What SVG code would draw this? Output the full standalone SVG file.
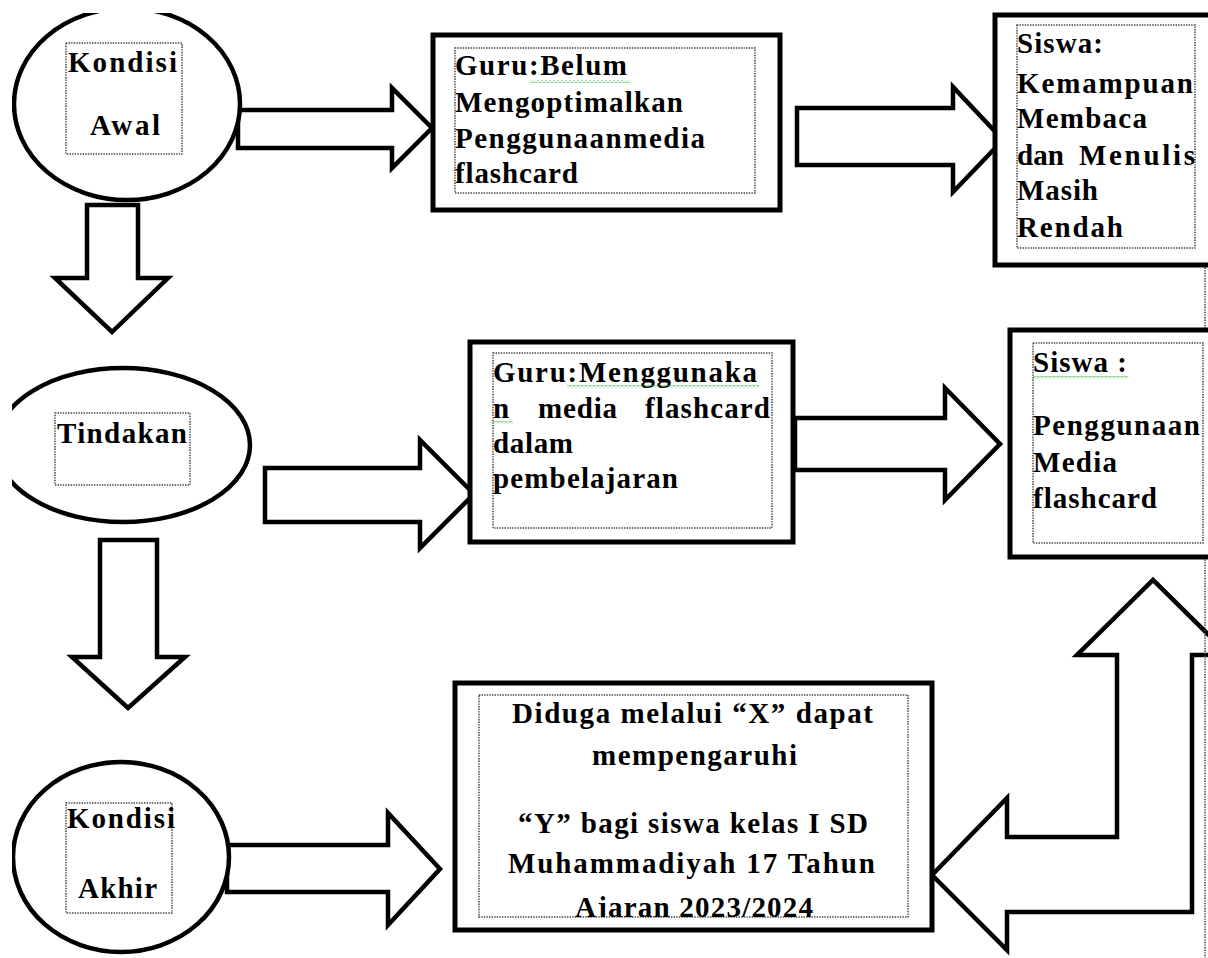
<svg xmlns="http://www.w3.org/2000/svg" width="1208" height="958" viewBox="0 0 1208 958">
<defs>
<style>
.box{fill:#fff;stroke:#000;stroke-width:5}
.ell{fill:#fff;stroke:#000;stroke-width:4.5}
.arr{fill:#fff;stroke:#000;stroke-width:4.5;stroke-linejoin:miter}
.dot{fill:none;stroke:#444;stroke-width:1.5;stroke-dasharray:1.4 1.2}
.t{font-family:"Liberation Serif","Times New Roman",serif;font-weight:bold;font-size:29px;fill:#000}
.sq{fill:url(#sq)}
</style>
<pattern id="sq" x="0" y="0" width="4" height="3" patternUnits="userSpaceOnUse"><path d="M0 0.5 L2 2.5 L4 0.5" stroke="#3aa83a" stroke-width="0.9" fill="none"/></pattern>
<clipPath id="clipPage"><rect x="12" y="13" width="1196" height="945"/></clipPath>
<clipPath id="clip5"><rect x="479" y="695" width="429" height="222"/></clipPath>
</defs>
<rect width="1208" height="958" fill="#fff"/>
<g id="connectors">
<polygon class="arr" points="238,110 392,110 392,88 432,128 392,168 392,148 238,148"/>
<polygon class="arr" points="797,108 953,108 953,87 1003,140 953,192 953,165 797,165"/>
<polygon class="arr" points="87,205 138,205 138,278 168,278 112,332 55,278 87,278"/>
<polygon class="arr" points="265,468 420,468 420,440 474,494 420,548 420,522 265,522"/>
<polygon class="arr" points="795,418 945,418 945,388 1000,444 945,500 945,470 795,470"/>
<polygon class="arr" points="100,540 157,540 157,657 185,657 128,708 72,657 100,657"/>
<polygon class="arr" points="227,845 388,845 388,813 440,869 388,925 388,892 227,892"/>
<polygon class="arr" points="932,875 1007,798 1007,837 1117,837 1117,655 1077,655 1153,580 1229,655 1192,655 1192,912 1007,912 1007,950"/>
<line class="dot" x1="1205" y1="265" x2="1205" y2="330"/>
<line class="dot" x1="1205" y1="557" x2="1205" y2="958"/>
</g>
<g id="kondisi-awal" clip-path="url(#clipPage)">
<ellipse class="ell" cx="127" cy="104" rx="113" ry="96"/>
<rect class="dot" x="66" y="43" width="116" height="111"/>
<text class="t" x="68" y="72" textLength="109" lengthAdjust="spacing">Kondisi</text>
<text class="t" x="90" y="135" textLength="70" lengthAdjust="spacing">Awal</text>
</g>
<g id="guru-belum">
<rect class="box" x="433" y="35" width="347" height="175"/>
<rect class="dot" x="455" y="48" width="300" height="145"/>
<text class="t" x="455" y="75" textLength="172" lengthAdjust="spacing">Guru:Belum</text>
<rect class="sq" x="530" y="80" width="100" height="3"/>
<text class="t" x="455" y="112" textLength="228" lengthAdjust="spacing">Mengoptimalkan</text>
<text class="t" x="455" y="148" textLength="250" lengthAdjust="spacing">Penggunaanmedia</text>
<text class="t" x="455" y="183" textLength="123" lengthAdjust="spacing">flashcard</text>
</g>
<g id="siswa-kemampuan">
<rect class="box" x="995" y="15" width="230" height="250"/>
<rect class="dot" x="1017" y="25" width="178" height="223"/>
<text class="t" x="1017" y="53" textLength="86" lengthAdjust="spacing">Siswa:</text>
<text class="t" x="1017" y="93" textLength="176" lengthAdjust="spacing">Kemampuan</text>
<text class="t" x="1017" y="128" textLength="130" lengthAdjust="spacing">Membaca</text>
<text class="t" x="1017" y="165" textLength="47" lengthAdjust="spacing">dan</text>
<text class="t" x="1079" y="165" textLength="116" lengthAdjust="spacing">Menulis</text>
<text class="t" x="1017" y="200" textLength="81" lengthAdjust="spacing">Masih</text>
<text class="t" x="1017" y="237" textLength="106" lengthAdjust="spacing">Rendah</text>
</g>
<g id="tindakan" clip-path="url(#clipPage)">
<ellipse class="ell" cx="123" cy="445" rx="127" ry="77"/>
<rect class="dot" x="55" y="413" width="135" height="72"/>
<text class="t" x="57" y="443" textLength="130" lengthAdjust="spacing">Tindakan</text>
</g>
<g id="guru-menggunakan">
<rect class="box" x="470" y="342" width="323" height="200"/>
<rect class="dot" x="493" y="353" width="279" height="175"/>
<text class="t" x="493" y="382" textLength="264" lengthAdjust="spacing">Guru:Menggunaka</text>
<rect class="sq" x="567" y="385" width="192" height="3"/>
<text class="t" x="493" y="418" textLength="17" lengthAdjust="spacing">n</text>
<rect class="sq" x="493" y="421" width="20" height="3"/>
<text class="t" x="538" y="418" textLength="79" lengthAdjust="spacing">media</text>
<text class="t" x="645" y="418" textLength="125" lengthAdjust="spacing">flashcard</text>
<text class="t" x="493" y="453" textLength="80" lengthAdjust="spacing">dalam</text>
<text class="t" x="493" y="488" textLength="185" lengthAdjust="spacing">pembelajaran</text>
</g>
<g id="siswa-penggunaan">
<rect class="box" x="1010" y="330" width="215" height="227"/>
<rect class="dot" x="1033" y="343" width="170" height="200"/>
<text class="t" x="1033" y="372" textLength="94" lengthAdjust="spacing">Siswa :</text>
<rect class="sq" x="1033" y="376" width="95" height="3"/>
<text class="t" x="1033" y="435" textLength="167" lengthAdjust="spacing">Penggunaan</text>
<text class="t" x="1033" y="472" textLength="84" lengthAdjust="spacing">Media</text>
<text class="t" x="1033" y="508" textLength="124" lengthAdjust="spacing">flashcard</text>
</g>
<g id="kondisi-akhir" clip-path="url(#clipPage)">
<ellipse class="ell" cx="121" cy="857" rx="108" ry="95"/>
<rect class="dot" x="66" y="803" width="106" height="110"/>
<text class="t" x="67" y="828" textLength="108" lengthAdjust="spacing">Kondisi</text>
<text class="t" x="78" y="898" textLength="79" lengthAdjust="spacing">Akhir</text>
</g>
<g id="hipotesis">
<rect class="box" x="455" y="683" width="477" height="247"/>
<rect class="dot" x="479" y="695" width="429" height="222"/>
<text class="t" x="512" y="723" textLength="361" lengthAdjust="spacing">Diduga melalui “X” dapat</text>
<text class="t" x="592" y="765" textLength="205" lengthAdjust="spacing">mempengaruhi</text>
<text class="t" x="518" y="833" textLength="350" lengthAdjust="spacing">“Y” bagi siswa kelas I SD</text>
<text class="t" x="508" y="873" textLength="367" lengthAdjust="spacing">Muhammadiyah 17 Tahun</text>
<g clip-path="url(#clip5)">
<text class="t" x="575" y="917" textLength="238" lengthAdjust="spacing">Ajaran 2023/2024</text>
</g>
</g>
</svg>
